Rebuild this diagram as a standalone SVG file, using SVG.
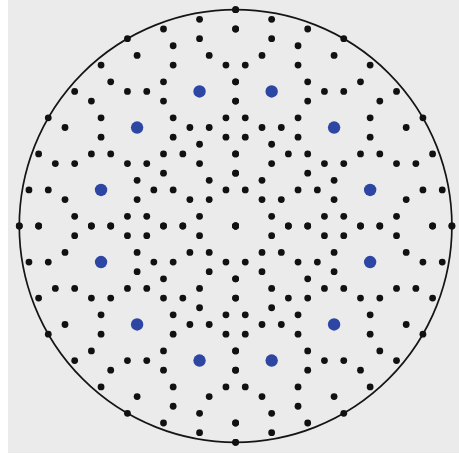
<svg xmlns="http://www.w3.org/2000/svg" xmlns:xlink="http://www.w3.org/1999/xlink" width="459" height="454" viewBox="0 0 459 454">
<style>
.d{fill:#111111}
.b{fill:#2d46a3}
</style>
<rect x="0" y="0" width="459" height="454" fill="#ffffff"/>
<rect x="8" y="0" width="451" height="453" fill="#ebebeb"/>
<g transform="translate(235.6,226)">
<circle cx="0" cy="0" r="216.31" fill="none" stroke="#151515" stroke-width="1.7"/>
<g id="q">
<circle class="d" r="3.4" cx="0" cy="-216.31"/>
<circle class="d" r="3.4" cx="-36.05" cy="-206.65"/>
<circle class="d" r="3.4" cx="-72.10" cy="-196.99"/>
<circle class="d" r="3.4" cx="0" cy="-196.99"/>
<circle class="d" r="3.4" cx="-108.15" cy="-187.32"/>
<circle class="d" r="3.4" cx="-36.05" cy="-187.32"/>
<circle class="d" r="3.4" cx="-62.44" cy="-180.26"/>
<circle class="d" r="3.4" cx="-98.49" cy="-170.60"/>
<circle class="d" r="3.4" cx="-26.39" cy="-170.60"/>
<circle class="d" r="3.4" cx="-62.44" cy="-160.93"/>
<circle class="d" r="3.4" cx="-9.66" cy="-160.93"/>
<circle class="d" r="3.4" cx="-72.10" cy="-144.21"/>
<circle class="d" r="3.4" cx="0" cy="-144.21"/>
<circle class="d" r="3.4" cx="-108.15" cy="-134.55"/>
<circle class="d" r="3.4" cx="-88.83" cy="-134.55"/>
<circle class="d" r="3.4" cx="-72.10" cy="-124.89"/>
<circle class="d" r="3.4" cx="0" cy="-124.89"/>
<circle class="d" r="3.4" cx="-62.44" cy="-108.15"/>
<circle class="d" r="3.4" cx="-9.66" cy="-108.15"/>
<circle class="d" r="3.4" cx="-134.55" cy="-160.93"/>
<circle class="d" r="3.4" cx="-124.89" cy="-144.21"/>
<circle class="d" r="3.4" cx="-160.93" cy="-134.55"/>
<circle class="d" r="3.4" cx="-144.21" cy="-124.89"/>
<circle class="d" r="3.4" cx="-187.32" cy="-108.15"/>
<circle class="d" r="3.4" cx="-134.55" cy="-108.15"/>
<circle class="d" r="3.4" cx="-45.71" cy="-98.49"/>
<circle class="d" r="3.4" cx="-26.39" cy="-98.49"/>
<circle class="d" r="3.4" cx="-62.44" cy="-88.83"/>
<circle class="d" r="3.4" cx="-9.66" cy="-88.83"/>
<circle class="d" r="3.4" cx="-36.05" cy="-81.76"/>
<circle class="d" r="3.4" cx="-72.10" cy="-72.10"/>
<circle class="d" r="3.4" cx="-52.78" cy="-72.10"/>
<circle class="d" r="3.4" cx="0" cy="-72.10"/>
<circle class="d" r="3.4" cx="-108.15" cy="-62.44"/>
<circle class="d" r="3.4" cx="-88.83" cy="-62.44"/>
<circle class="d" r="3.4" cx="-36.05" cy="-62.44"/>
<circle class="d" r="3.4" cx="-72.10" cy="-52.78"/>
<circle class="d" r="3.4" cx="0" cy="-52.78"/>
<circle class="d" r="3.4" cx="-98.49" cy="-45.71"/>
<circle class="d" r="3.4" cx="-26.39" cy="-45.71"/>
<circle class="d" r="3.4" cx="-81.76" cy="-36.05"/>
<circle class="d" r="3.4" cx="-62.44" cy="-36.05"/>
<circle class="d" r="3.4" cx="-9.66" cy="-36.05"/>
<circle class="d" r="3.4" cx="-98.49" cy="-26.39"/>
<circle class="d" r="3.4" cx="-45.71" cy="-26.39"/>
<circle class="d" r="3.4" cx="-26.39" cy="-26.39"/>
<circle class="d" r="3.4" cx="-108.15" cy="-9.66"/>
<circle class="d" r="3.4" cx="-88.83" cy="-9.66"/>
<circle class="d" r="3.4" cx="-36.05" cy="-9.66"/>
<circle class="d" r="3.4" cx="-72.10" cy="0"/>
<circle class="d" r="3.4" cx="-52.78" cy="0"/>
<circle class="d" r="3.4" cx="0" cy="0"/>
<circle class="d" r="3.4" cx="-170.60" cy="-98.49"/>
<circle class="d" r="3.4" cx="-134.55" cy="-88.83"/>
<circle class="d" r="3.4" cx="-196.99" cy="-72.10"/>
<circle class="d" r="3.4" cx="-144.21" cy="-72.10"/>
<circle class="d" r="3.4" cx="-124.89" cy="-72.10"/>
<circle class="d" r="3.4" cx="-180.26" cy="-62.44"/>
<circle class="d" r="3.4" cx="-160.93" cy="-62.44"/>
<circle class="d" r="3.4" cx="-206.65" cy="-36.05"/>
<circle class="d" r="3.4" cx="-187.32" cy="-36.05"/>
<circle class="d" r="3.4" cx="-170.60" cy="-26.39"/>
<circle class="d" r="3.4" cx="-160.93" cy="-9.66"/>
<circle class="d" r="3.4" cx="-216.31" cy="0"/>
<circle class="d" r="3.4" cx="-196.99" cy="0"/>
<circle class="d" r="3.4" cx="-144.21" cy="0"/>
<circle class="d" r="3.4" cx="-124.89" cy="0"/>
<circle class="b" r="6.2" cx="-36.05" cy="-134.55"/>
<circle class="b" r="6.2" cx="-98.49" cy="-98.49"/>
<circle class="b" r="6.2" cx="-134.55" cy="-36.05"/>
</g>
<use href="#q" xlink:href="#q" transform="scale(-1,1)"/>
<use href="#q" xlink:href="#q" transform="scale(1,-1)"/>
<use href="#q" xlink:href="#q" transform="scale(-1,-1)"/>
</g>
</svg>
